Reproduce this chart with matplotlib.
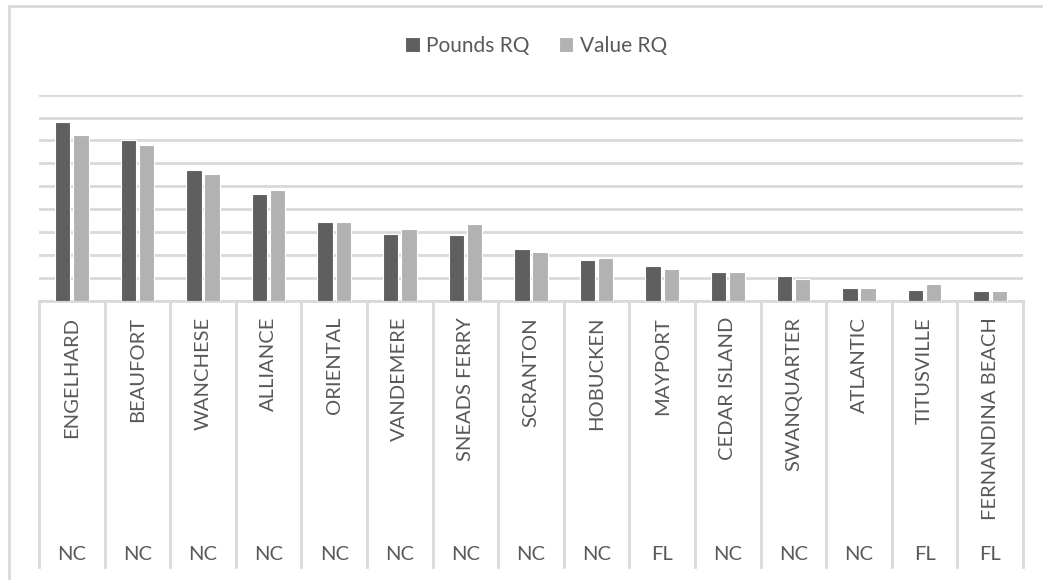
# plot.py - Pounds RQ vs Value RQ by port (Excel-style clustered bars)

import numpy as np
import matplotlib
matplotlib.use("Agg")
import matplotlib.pyplot as plt
from matplotlib.patches import Rectangle
from matplotlib.transforms import blended_transform_factory

# Data (y axis has no labels so units are gridline steps)
ports = ["ENGELHARD", "BEAUFORT", "WANCHESE", "ALLIANCE", "ORIENTAL",
         "VANDEMERE", "SNEADS FERRY", "SCRANTON", "HOBUCKEN", "MAYPORT",
         "CEDAR ISLAND", "SWANQUARTER", "ATLANTIC", "TITUSVILLE",
         "FERNANDINA BEACH"]
states = ["NC", "NC", "NC", "NC", "NC", "NC", "NC", "NC", "NC", "FL",
          "NC", "NC", "NC", "FL", "FL"]
pounds_rq = [7.79, 7.00, 5.72, 4.66, 3.42, 2.93, 2.87, 2.24, 1.79, 1.53,
             1.24, 1.07, 0.57, 0.45, 0.41]
value_rq = [7.24, 6.79, 5.55, 4.82, 3.42, 3.14, 3.36, 2.13, 1.85, 1.40,
            1.24, 0.95, 0.57, 0.74, 0.41]

dark = "#5f5f5f"
light = "#b2b2b2"
grid_col = "#d9d9d9"
txt_col = "#595959"

plt.rcParams['font.family'] = ['Lato', 'DejaVu Sans']

W, H = 1043, 580
fig = plt.figure(figsize=(W / 100, H / 100), dpi=100)

# axes box in pixel terms
x0, x1 = 39, 1023
ytop, ybase = 94.7, 300.7
ax = fig.add_axes([x0 / W, (H - ybase) / H, (x1 - x0) / W, (ybase - ytop) / H])

pos = np.arange(len(ports))
width = 0.235
ax.bar(pos - 0.14, pounds_rq, width, color=dark, edgecolor="white",
       linewidth=0.8, label="Pounds RQ", zorder=3)
ax.bar(pos + 0.14, value_rq, width, color=light, edgecolor="white",
       linewidth=0.8, label="Value RQ", zorder=3)

ax.set_xlim(-0.5, len(ports) - 0.5)
ax.set_ylim(0, 9)
ax.set_yticks(range(0, 10))
ax.yaxis.grid(True, color=grid_col, linewidth=2, zorder=0)
ax.set_yticklabels([])
ax.tick_params(axis="y", length=0)
ax.set_xticks([])
for s in ["left", "right", "top"]:
    ax.spines[s].set_visible(False)
ax.spines["bottom"].set_color(grid_col)
ax.spines["bottom"].set_linewidth(2)

# multi-level category axis: dividers, port names and states
axis_h = ybase - ytop
trans = blended_transform_factory(ax.transData, ax.transAxes)
y_div = -(567 - ybase) / axis_h
for xd in np.arange(-0.5, len(ports), 1.0):
    ax.plot([xd, xd], [0, y_div], color=grid_col, linewidth=2,
            transform=trans, clip_on=False)

y_name = -(317 - ybase) / axis_h
y_state = -(554 - ybase) / axis_h
for i, (p, st) in enumerate(zip(ports, states)):
    ax.text(i, y_name, p, rotation=90, ha="center", va="top",
            fontsize=14.5, color=txt_col, transform=trans)
    ax.text(i, y_state, st, ha="center", va="center",
            fontsize=14.5, color=txt_col, transform=trans)

# legend at top
fig.legend(loc="center", bbox_to_anchor=(536 / W, 1 - 46 / H), ncol=2,
           frameon=False, fontsize=15, labelcolor=txt_col,
           handlelength=0.7, handleheight=0.7, handletextpad=0.3,
           columnspacing=1.4)

# light chart-area border (runs off the right and bottom edges)
fig.add_artist(Rectangle((9 / W, -0.1), 1.2, (H - 6) / H + 0.1,
                         transform=fig.transFigure, fill=False,
                         edgecolor=grid_col, linewidth=2))

fig.savefig("out.png", dpi=100)
